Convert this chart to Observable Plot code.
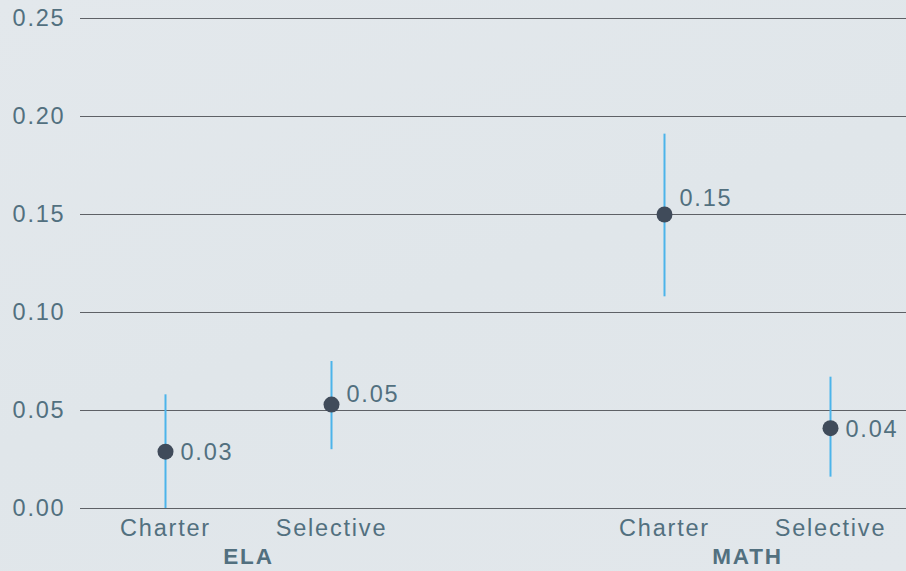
<!DOCTYPE html>
<html><head><meta charset="utf-8">
<script src="https://cdn.jsdelivr.net/npm/d3@7"></script>
<script src="https://cdn.jsdelivr.net/npm/@observablehq/plot@0.6"></script>
<style>
html,body{margin:0;padding:0;overflow:hidden;}
body{background:linear-gradient(160deg,#e3e8ec 0%,#e0e6ea 50%,#e2e7eb 100%);width:906px;height:571px;}
#chart{position:relative;width:906px;height:571px;}
#chart svg{display:block;position:absolute;left:0;top:0;}
#chart svg text{letter-spacing:1.8px;}
</style></head><body><div id="chart"></div>
<script>
const subjects = ["ELA", "ELA", "MATH", "MATH"];
const schoolTypes = ["Charter", "Selective", "Charter", "Selective"];
const estimates = [0.029, 0.053, 0.150, 0.041];
const lows = [0.000, 0.030, 0.108, 0.016];
const highs = [0.058, 0.075, 0.191, 0.067];
const yTicks = [0, 0.05, 0.10, 0.15, 0.20, 0.25];

const data = estimates.map((e, i) => ({subject: subjects[i], type: schoolTypes[i], est: e, lo: lows[i], hi: highs[i]}));
const gridOf = v => Math.round(v / 0.05) * 0.05;
const nearGrid = d => Math.abs(d.est - gridOf(d.est)) < 0.006;
const txt = "#52707f";
const font = 23.5;

const common = {
  width: 906, height: 571,
  marginLeft: 80, marginRight: 0, marginTop: 18, marginBottom: 63,
  style: {background: "transparent", fontFamily: "'Liberation Sans', Arial, sans-serif", color: txt},
  y: {domain: [0, 0.25]}
};

// base layer: gridlines and y axis spanning the full frame
const baseLayer = Plot.plot({
  ...common,
  marks: [
    Plot.ruleY(yTicks, {stroke: "#5e6166", strokeWidth: 1}),
    Plot.axisY({ticks: yTicks, tickSize: 0, tickPadding: 15, tickFormat: d => d.toFixed(2), fontSize: font, fill: txt, label: null})
  ]
});

// data layer: faceted by subject
const dataLayer = Plot.plot({
  ...common,
  fx: {domain: ["ELA", "MATH"], paddingInner: 0.366, paddingOuter: 0, insetLeft: 10},
  x: {domain: ["Charter", "Selective"], type: "point", padding: 0.45},
  marks: [
    Plot.axisY({ticks: [], label: null}),
    Plot.axisX({tickSize: 0, tickPadding: 11, fontSize: font, fill: txt, label: null}),
    Plot.axisFx({anchor: "bottom", tickSize: 0, tickPadding: 40, fontSize: font - 1, fontWeight: "bold", fill: txt, label: null}),
    Plot.ruleX(data, {fx: "subject", x: "type", y1: "lo", y2: "hi", stroke: "#4cb4ea", strokeWidth: 2}),
    Plot.dot(data, {fx: "subject", x: "type", y: "est", r: 8, fill: "#404b5a", stroke: "none"}),
    Plot.text(data, {filter: d => !nearGrid(d), fx: "subject", x: "type", y: "est", text: d => d.est.toFixed(2), textAnchor: "start", dx: 15, dy: 1, fontSize: font, fill: txt}),
    Plot.text(data, {filter: nearGrid, fx: "subject", x: "type", y: d => gridOf(d.est), text: d => d.est.toFixed(2), textAnchor: "start", dx: 15, dy: -16, fontSize: font, fill: txt})
  ]
});

document.getElementById("chart").append(baseLayer, dataLayer);
</script>
</body></html>
